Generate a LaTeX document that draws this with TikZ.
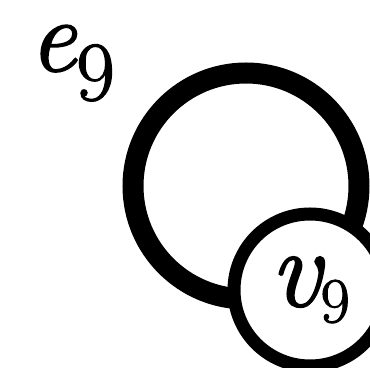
\documentclass[tikz,border=0pt]{standalone}
\usepackage{fontspec}
\newfontfamily\labelfont[FakeBold=1.6]{Latin Modern Roman}
\usepackage{tikz}

% letter, then a lowered digit: #1 size, #2 letter, #3 digit size, #4 digit, #5 drop
\newcommand{\sublabel}[5]{\labelfont{\fontsize{#1}{#1}\selectfont\itshape #2}\raisebox{-#5}{\fontsize{#3}{#3}\selectfont #4}}

\tikzset{
  vertex/.style={circle, draw, fill=white, line width=6.5pt, inner sep=0pt,
    minimum size=76pt},
  loopedge/.style={line width=10.5pt},
  edgelabel/.style={inner sep=0pt},
}

\begin{document}
\begin{tikzpicture}[x=0.5pt,y=0.5pt,yscale=-1,xscale=1]
\useasboundingbox (0,0) rectangle (370,368);

%Loop centre
\coordinate (c9) at (246,186);
%Loop e9
\draw [loopedge] (c9) circle [radius=113];

%Vertex v9
\node [vertex] (v9) at (310,290) {\sublabel{56pt}{v}{32pt}{9}{8pt}};

% Text Node
\node [edgelabel, anchor=base west] (e9) at (29,71) {\sublabel{52pt}{e}{42pt}{9}{14.5pt}};

\end{tikzpicture}
\end{document}
